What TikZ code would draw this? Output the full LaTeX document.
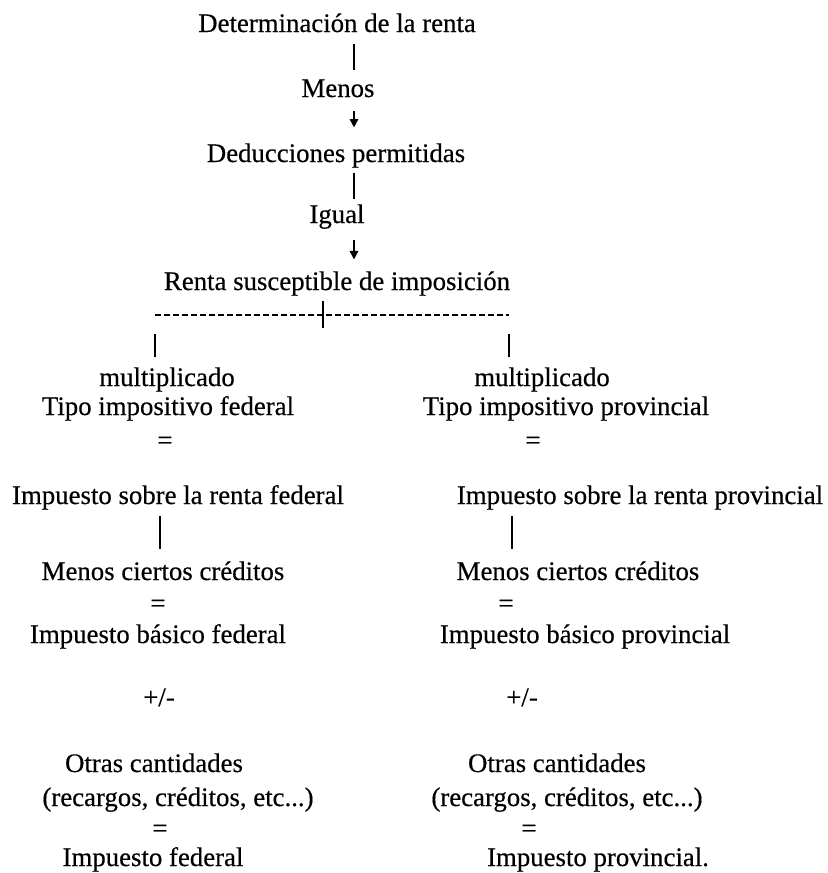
\documentclass[tikz,border=0pt]{standalone}
\usepackage{fontspec}
\setmainfont{Liberation Serif}[FakeBold=0.4]
\usetikzlibrary{arrows.meta}

\begin{document}
\begin{tikzpicture}[x=0.5pt,y=-0.5pt,
  txt/.style={inner sep=0pt,anchor=base,font=\fontsize{13.4}{16}\selectfont},
  bar/.style={line width=0.8pt},
  down/.style={line width=0.95pt,-{Triangle[width=4.2pt,length=4.2pt]}},
  split/.style={line width=0.6pt,dash pattern=on 3pt off 1.5pt}]
  \useasboundingbox (0,0) rectangle (828,873);
  % tronco comun
  \coordinate (stem) at (354,0);
  \node[txt] (det) at (337,32) {Determinación de la renta};
  \node[txt] (menos) at (338,97) {Menos};
  \node[txt] (deduc) at (336,162) {Deducciones permitidas};
  \node[txt] (igual) at (337,223) {Igual};
  \node[txt] (renta) at (337,290) {Renta susceptible de imposición};
  \draw[bar,shorten <=5.5pt,shorten >=4.6pt] (det.south -| stem) -- (menos.north -| stem);
  \draw[down,shorten <=6.5pt,shorten >=7.8pt] (menos.south -| stem) -- (deduc.north -| stem);
  \draw[bar,shorten <=2.6pt,shorten >=2.3pt] (deduc.south -| stem) -- (igual.north -| stem);
  \draw[down,shorten <=5.5pt,shorten >=5.8pt] (igual.south -| stem) -- (renta.north -| stem);
  % reparto
  \coordinate (splitL) at (155,315);
  \coordinate (splitM) at (323,315);
  \coordinate (splitR) at (509,315);
  \draw[split] (splitL) -- (splitR);
  \draw[bar] ([yshift=7pt]splitM) -- ([yshift=-6.5pt]splitM);
  % rama federal
  \node[txt] (multL) at (167,386) {multiplicado};
  \node[txt] (tipoL) at (168,415) {Tipo impositivo federal};
  \node[txt] (eqL1) at (165,449) {=};
  \node[txt] (sobreL) at (178,504) {Impuesto sobre la renta federal};
  \node[txt] (menosL) at (163,580) {Menos ciertos créditos};
  \node[txt] (eqL2) at (158,612) {=};
  \node[txt] (basL) at (158,643) {Impuesto básico federal};
  \node[txt] (pmL) at (159,706) {+/-};
  \node[txt] (otrasL) at (154,772) {Otras cantidades};
  \node[txt] (recL) at (178,806) {(recargos, créditos, etc...)};
  \node[txt] (eqL3) at (160,837) {=};
  \node[txt] (finL) at (153,866) {Impuesto federal};
  \coordinate (barL) at (160,504);
  \draw[bar,shorten <=9.5pt,shorten >=4.8pt] (splitL) -- (splitL |- multL.north);
  \draw[bar,shorten <=6pt,shorten >=5.8pt] (barL) -- (barL |- menosL.north);
  % rama provincial
  \node[txt] (multR) at (542,386) {multiplicado};
  \node[txt] (tipoR) at (566,415) {Tipo impositivo provincial};
  \node[txt] (eqR1) at (533,449) {=};
  \node[txt] (sobreR) at (640,504) {Impuesto sobre la renta provincial};
  \node[txt] (menosR) at (578,580) {Menos ciertos créditos};
  \node[txt] (eqR2) at (506,612) {=};
  \node[txt] (basR) at (585,643) {Impuesto básico provincial};
  \node[txt] (pmR) at (522,706) {+/-};
  \node[txt] (otrasR) at (557,772) {Otras cantidades};
  \node[txt] (recR) at (567,806) {(recargos, créditos, etc...)};
  \node[txt] (eqR3) at (529,837) {=};
  \node[txt] (finR) at (598,866) {Impuesto provincial.};
  \coordinate (barR) at (512,504);
  \draw[bar,shorten <=9.5pt,shorten >=4.8pt] (splitR) -- (splitR |- multR.north);
  \draw[bar,shorten <=6pt,shorten >=5.8pt] (barR) -- (barR |- menosR.north);
\end{tikzpicture}
\end{document}
